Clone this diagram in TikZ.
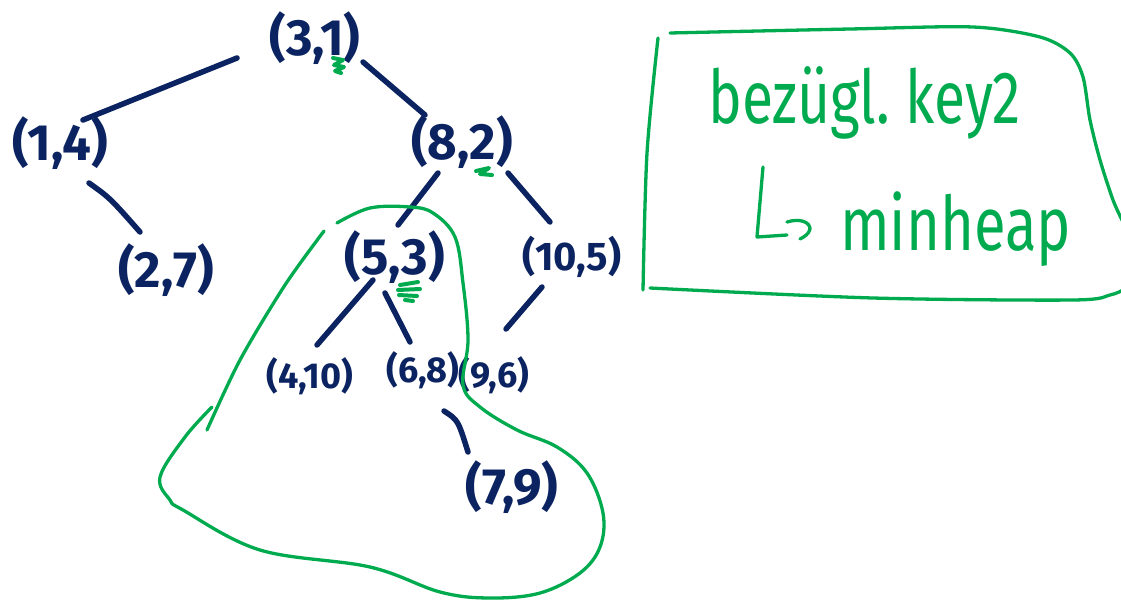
\documentclass[tikz,border=0pt]{standalone}
\usepackage{fontspec}
\setmainfont{Fira Sans}
\usetikzlibrary{calc}
\definecolor{navy}{HTML}{0B2461}
\definecolor{mark}{HTML}{00AA4F}
\begin{document}
\begin{tikzpicture}[x=1pt,y=-1pt,
  key/.style={text=navy,font=\bfseries\fontsize{51}{51}\selectfont,inner sep=0pt},
  keysmall/.style={key,font=\bfseries\fontsize{40}{40}\selectfont},
  keynarrow/.style={key,font=\bfseries\fontsize{36}{36}\selectfont},
  edge/.style={draw=navy,line width=5.5pt,line cap=round},
  hl/.style={draw=mark,line width=3.3pt,line cap=round,line join=round},
  scrib/.style={draw=mark,line width=4pt,line cap=round,line join=round},
  note/.style={text=mark,font=\fontsize{57}{57}\selectfont,inner sep=0pt}]
\useasboundingbox (0,0) rectangle (1121,600);
% tree nodes
\node[key] (n31) at (315,38) {(3,1)};
\node[key] (n14) at (60,143) {(1,4)};
\node[key] (n82) at (462,142) {(8,2)};
\node[key] (n27) at (166,270) {(2,7)};
\node[key] (n53) at (395,257) {(5,3)};
\node[keysmall] (n105) at (572,257) {(10,5)};
\node[keynarrow] (n410) at (310,376) {(4,10)};
\node[keynarrow] (n68) at (423,370) {(6,8)};
\node[keynarrow] (n96) at (494,375) {(9,6)};
\node[key] (n79) at (512,487) {(7,9)};
% edges
\draw[edge] ($(n31)+(-78,20)$) -- ($(n14)+(23,-23)$);
\draw[edge] ($(n31)+(48,24)$) -- ($(n82)+(-37,-27)$);
\draw[edge] ($(n14)+(29,40)$) .. controls ($(n14)+(50,55)$) .. ($(n27)+(-26,-38)$);
\draw[edge] ($(n82)+(-24,31)$) -- ($(n53)+(3,-32)$);
\draw[edge] ($(n82)+(46,31)$) -- ($(n105)+(-22,-35)$);
\draw[edge] ($(n53)+(-22,23)$) -- ($(n410)+(7,-31)$);
\draw[edge] ($(n53)+(-10,36)$) -- ($(n68)+(-13,-28)$);
\draw[edge] ($(n105)+(-30,30)$) -- ($(n96)+(12,-46)$);
\draw[edge] ($(n68)+(21,41)$) .. controls ($(n68)+(35,50)$) .. ($(n79)+(-44,-35)$);
% green priority marks
\draw[scrib] (333,58) -- (343,60) -- (334,65) -- (344,67) -- (335,71) -- (341,73);
\draw[scrib] (476,171) -- (489,168) -- (480,174) -- (492,175);
\draw[scrib] (400,285) -- (418,282) (398,290) -- (420,289) (399,295) -- (417,296) (405,300) -- (413,301);
% green subtree outline
\draw[hl] plot[smooth] coordinates {(324,231) (285,285) (240,360) (207,430)};
\draw[hl] plot[smooth,tension=0.6] coordinates {(212,407) (185,437) (160,477) (170,500) (183,510) (260,550) (370,567) (440,592) (490,598) (540,593) (580,573) (600,547) (603,513) (587,473) (557,447) (517,430) (480,407) (463,385) (468,340) (463,283) (455,237) (433,213) (410,207) (370,208) (337,223)};
% note box
\draw[hl] plot[smooth] coordinates {(658,38) (647,153) (643,290)};
\draw[hl] plot[smooth] coordinates {(670,33) (850,29) (973,27) (1040,37) (1070,53) (1083,77) (1090,120) (1100,160) (1113,200) (1123,222)};
\draw[hl] plot[smooth] coordinates {(650,288) (873,298) (1073,300) (1110,295) (1123,290)};
\node[note,anchor=base west] (t1) at (708,123) {\scalebox{1}[1.3]{bezügl.\ key2}};
\node[note,anchor=base west,font=\fontsize{58}{58}\selectfont] (t3) at (840,250) {\scalebox{1}[1.3]{minheap}};
% hooked arrow
\coordinate (ha) at (763,167);
\draw[hl] (ha) -- (757,237) -- (787,235);
\draw[hl] (787,222) .. controls (800,218) and (810,222) .. (810,229) .. controls (809,234) and (804,237) .. (800,239);
\end{tikzpicture}
\end{document}
